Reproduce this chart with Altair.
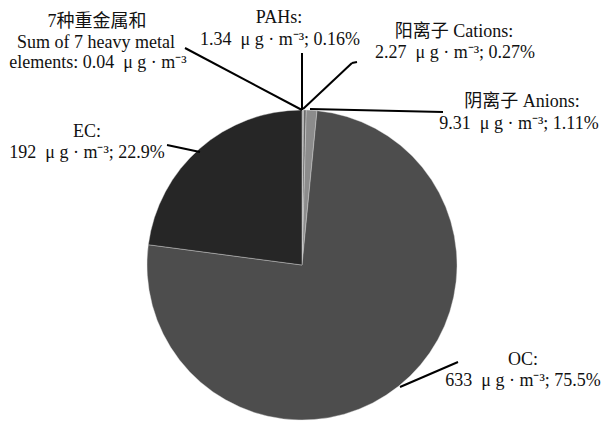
import altair as alt
import pandas as pd

# slice data (clockwise from 12 o'clock)
components = ["Heavy metals", "PAHs", "Cations", "Anions", "OC", "EC"]
values = [0.04, 1.34, 2.27, 9.31, 633, 192]
colors = ["#555555", "#9a9a9a", "#6a6a6a", "#8c8c8c", "#4d4d4d", "#262626"]

NB = "\u00a0"
U = f"{NB}{NB}μ{NB}g{NB}·{NB}m⁻³"

# annotation text lines and anchor points (pixel space)
label_lines = [
    "7种重金属和", "Sum of 7 heavy metal", f"elements: 0.04{U}",
    "PAHs:", f"1.34{U}; 0.16%",
    "阳离子 Cations:", f"2.27{U}; 0.27%",
    "阴离子 Anions:", f"9.31{U}; 1.11%",
    "EC:", f"192{U}; 22.9%",
    "OC:", f"633{U}; 75.5%",
]
label_x = [97, 96, 98, 279, 280, 454, 455, 522, 519, 87, 87, 523, 523]
label_y = [22, 43, 63, 18, 40, 32, 53, 102, 124, 132, 153, 360, 381]

# leader line segments
lead_x1 = [302, 302, 303, 352, 310, 167, 458]
lead_y1 = [110, 110, 109, 63, 109, 145, 362]
lead_x2 = [185, 302, 352, 357, 443, 200, 400]
lead_y2 = [48, 53, 63, 62, 112, 152, 387]

pie_df = pd.DataFrame({"component": components, "value": values,
                       "order": list(range(len(components)))})
lab_df = pd.DataFrame({"text": label_lines, "x": label_x, "y": label_y})
lead_df = pd.DataFrame({"x": lead_x1, "y": lead_y1, "x2": lead_x2, "y2": lead_y2})

font = "Liberation Serif, Noto Sans CJK SC"

pie = alt.Chart(pie_df).mark_arc(radius=155, stroke="#dddddd", strokeWidth=0.4).encode(
    theta=alt.Theta("value:Q", stack=True),
    order=alt.Order("order:Q"),
    color=alt.Color("component:N", scale=alt.Scale(domain=components, range=colors), legend=None),
    x=alt.value(302),
    y=alt.value(265),
)

leads = alt.Chart(lead_df).mark_rule(color="black", strokeWidth=2).encode(
    x=alt.X("x:Q", scale=None), y=alt.Y("y:Q", scale=None),
    x2="x2:Q", y2="y2:Q",
)

labels = alt.Chart(lab_df).mark_text(font=font, fontSize=18, color="#111111",
                                     align="center", baseline="middle").encode(
    x=alt.X("x:Q", scale=None), y=alt.Y("y:Q", scale=None), text="text:N",
)

chart = alt.layer(pie, leads, labels).properties(
    width=602, height=421, padding=0, autosize="none",
    background="white",
).configure_view(strokeWidth=0)

chart.save("out.html", embed_options={"renderer": "svg", "actions": False})
